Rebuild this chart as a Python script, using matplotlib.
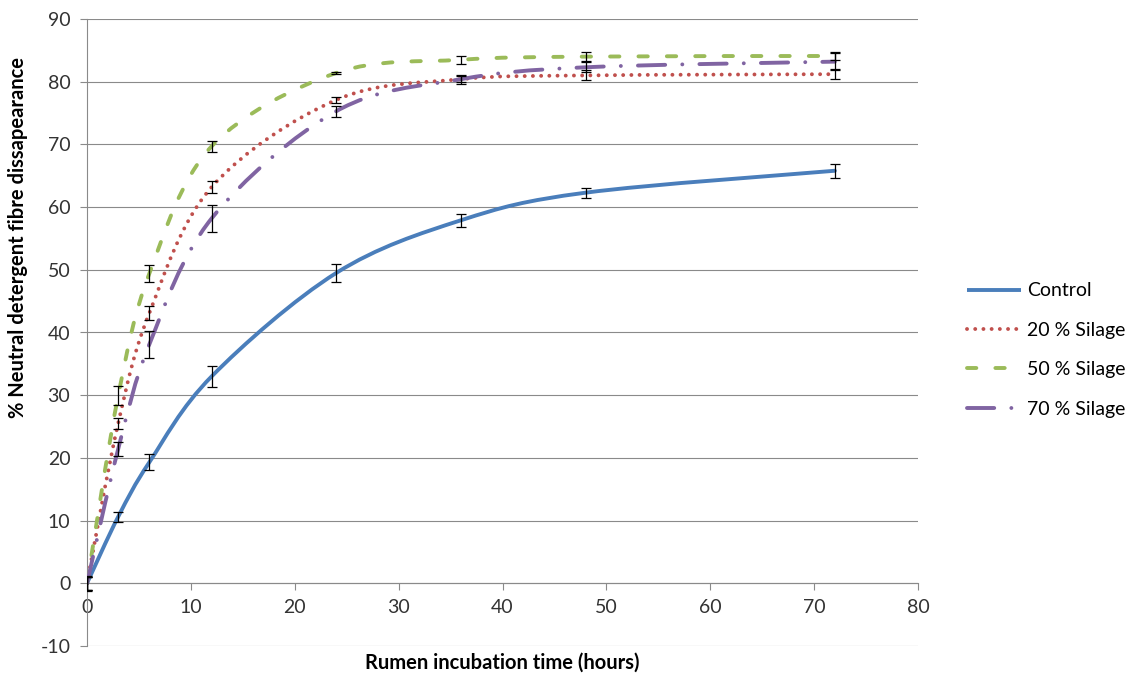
import numpy as np
from matplotlib import pyplot as plt
from matplotlib.path import Path
from matplotlib.patches import PathPatch
from matplotlib.lines import Line2D

plt.rcParams['font.family'] = ['Lato', 'DejaVu Sans']
plt.rcParams['axes.unicode_minus'] = False

# sampling times (hours) and mean NDF disappearance (%) with error bars
hours = [0, 3, 6, 12, 24, 36, 48, 72]

control = [0, 10.6, 19.3, 33.0, 49.5, 57.9, 62.3, 65.8]
control_err = [1.2, 0.8, 1.3, 1.7, 1.4, 1.0, 0.8, 1.1]

silage20 = [0, 25.5, 43.1, 63.2, 77.1, 80.4, 81.0, 81.2]
silage20_err = [1.0, 0.9, 1.1, 1.0, 0.5, 0.7, 0.8, 0.8]

silage50 = [0, 29.9, 49.4, 69.7, 81.4, 83.5, 84.0, 84.1]
silage50_err = [1.0, 1.5, 1.3, 0.85, 0.2, 0.6, 0.7, 0.6]

silage70 = [0, 21.4, 38.1, 58.2, 75.3, 80.4, 82.3, 83.2]
silage70_err = [1.0, 1.1, 2.2, 2.2, 0.9, 0.5, 0.8, 1.3]

labels = ['Control', '20 % Silage', '50 % Silage', '70 % Silage']


def smooth_path(xs, ys):
    # excel style "smoothed line": bezier segments through the points
    pts = np.column_stack([xs, ys]).astype(float)
    n = len(pts)
    verts = [pts[0]]
    codes = [Path.MOVETO]
    for i in range(n - 1):
        p0 = pts[max(i - 1, 0)]
        p1 = pts[i]
        p2 = pts[i + 1]
        p3 = pts[min(i + 2, n - 1)]
        verts += [p1 + (p2 - p0) / 6, p2 - (p3 - p1) / 6, p2]
        codes += [Path.CURVE4] * 3
    return Path(verts, codes)


fig = plt.figure(figsize=(11.34, 6.77), dpi=100)
ax = fig.add_axes([87/1134, 1-646/677, (918-87)/1134, (646-19)/677])

lw = 2.8
styles = [
    ('#4a7ebb', '-'),
    ('#c0504d', (0, (0.01, 2.1))),
    ('#9bbb59', (0, (2.4, 4.9))),
    ('#8064a2', (0, (7.0, 4.4, 0.01, 4.4))),
]
series = [(control, control_err), (silage20, silage20_err),
          (silage50, silage50_err), (silage70, silage70_err)]

handles = []
for (vals, errs), (col, ls), lab in zip(series, styles, labels):
    patch = PathPatch(smooth_path(hours, vals), fill=False, edgecolor=col,
                      lw=lw, linestyle=ls, capstyle='round', zorder=3)
    ax.add_patch(patch)
    handles.append(Line2D([], [], color=col, lw=lw, linestyle=ls,
                          dash_capstyle='round', solid_capstyle='butt'))

for vals, errs in series:
    ax.errorbar(hours, vals, yerr=errs, fmt='none', ecolor='black',
                elinewidth=0.9, capsize=3.3, capthick=0.9, zorder=5)

ax.set_xlim(0, 80)
ax.set_ylim(-10, 90)
ax.set_xticks(np.arange(0, 81, 10))
ax.set_yticks(np.arange(-10, 91, 10))

ax.yaxis.grid(True, color='#8a8a8a', lw=0.8)
ax.set_axisbelow(True)
for s in ['top', 'right']:
    ax.spines[s].set_visible(False)
ax.spines['bottom'].set_position(('data', 0))
ax.spines['bottom'].set_color('#8a8a8a')
ax.spines['left'].set_color('#8a8a8a')
ax.spines['bottom'].set_linewidth(0.8)
ax.spines['left'].set_linewidth(0.8)
ax.tick_params(axis='both', colors='#8a8a8a', labelcolor='#333333',
               labelsize=14, length=5, width=0.8)
ax.tick_params(axis='y', pad=7)
ax.tick_params(axis='x', pad=6)

fig.text(502/1134, 1-663/677, 'Rumen incubation time (hours)',
         ha='center', va='center', fontsize=14.5, fontweight='bold')
fig.text(18/1134, 1-237/677, '% Neutral detergent fibre dissapearance',
         ha='center', va='center', rotation=90, fontsize=14.5,
         fontweight='bold')

fig.legend(handles, labels, loc='center left',
           bbox_to_anchor=(967/1134, 1-350/677), frameon=False,
           fontsize=14, handlelength=2.8, handletextpad=0.3,
           labelspacing=1.15, borderpad=0, borderaxespad=0)

fig.savefig('out.png', dpi=100)
